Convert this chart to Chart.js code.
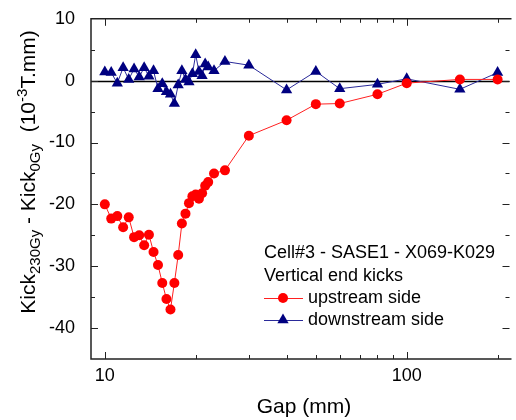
<!DOCTYPE html>
<html>
<head>
<meta charset="utf-8">
<script src="https://cdn.jsdelivr.net/npm/chart.js@4.4.0/dist/chart.umd.min.js"></script>
<style>
  html, body { margin: 0; padding: 0; background: #fff; }
  #wrap { width: 516px; height: 420px; }
</style>
</head>
<body>
<div id="wrap"><canvas id="kicks"></canvas></div>
<script>
// gap values (mm), shared by both series
const gaps = [10, 10.5, 11, 11.5, 12, 12.5, 13, 13.5, 14, 14.5, 15, 15.5, 16, 16.5, 17, 17.5,
  18, 18.5, 19, 19.5, 20, 20.5, 21, 21.5, 22, 23, 25, 30, 40, 50, 60, 80, 100, 150, 200];

const upstream = [-20.0, -22.3, -21.9, -23.7, -22.1, -25.3, -25.0, -26.6, -24.9, -27.7, -29.8, -32.7,
  -35.3, -37.0, -32.7, -28.2, -23.1, -21.5, -19.8, -18.7, -18.4, -19.1, -18.2, -17.0, -16.4, -15.0,
  -14.5, -8.9, -6.4, -3.8, -3.7, -2.2, -0.4, 0.2, 0.2];

const downstream = [1.4, 1.3, -0.4, 2.1, 0.2, 1.9, 0.6, 2.1, 0.7, 1.6, -1.3, -0.5,
  -1.8, -2.2, -3.7, -0.7, 1.6, 0.2, -0.2, 1.1, 4.2, 1.5, 0.8, 2.7, 2.2, 1.6,
  3.1, 2.5, -1.5, 1.5, -1.3, -0.6, 0.3, -1.4, 1.3];

const xTicks = [10, 20, 30, 40, 50, 60, 70, 80, 90, 100, 200];
const xLabels = ["10", "", "", "", "", "", "", "", "", "100", ""];

const legendTitle = ["Cell#3 - SASE1 - X069-K029", "Vertical end kicks"];
const seriesNames = ["upstream side", "downstream side"];

const FONT = '"Liberation Sans", Arial, sans-serif';

const framePlugin = {
  id: "frame",
  beforeDatasetsDraw(chart) {
    const ctx = chart.ctx;
    const a = chart.chartArea;
    const x = chart.scales.x;
    const y = chart.scales.y;
    ctx.save();
    // zero line
    const y0 = Math.round(y.getPixelForValue(0)) + 0.5;
    ctx.strokeStyle = "#000";
    ctx.lineWidth = 1.5;
    ctx.beginPath();
    ctx.moveTo(a.left, y0);
    ctx.lineTo(a.right, y0);
    ctx.stroke();

    // frame (right edge falls outside the picture)
    ctx.strokeStyle = "#222";
    ctx.lineWidth = 1.5;
    ctx.beginPath();
    ctx.moveTo(a.right + 2, a.top);
    ctx.lineTo(a.left, a.top);
    ctx.lineTo(a.left, a.bottom);
    ctx.lineTo(a.right + 2, a.bottom);
    ctx.stroke();

    // inward ticks
    ctx.lineWidth = 1;
    ctx.beginPath();
    x.ticks.forEach(t => {
      const px = Math.round(x.getPixelForValue(t.value)) + 0.5;
      const len = (t.value === 10 || t.value === 100) ? 7 : 4;
      ctx.moveTo(px, a.bottom);
      ctx.lineTo(px, a.bottom - len);
      ctx.moveTo(px, a.top);
      ctx.lineTo(px, a.top + len);
    });
    y.ticks.forEach(t => {
      if (t.value <= -45 || t.value >= 10) return;
      const py = Math.round(y.getPixelForValue(t.value)) + 0.5;
      const len = (t.value % 10 === 0) ? 7 : 4;
      ctx.moveTo(a.left, py);
      ctx.lineTo(a.left + len, py);
      ctx.moveTo(a.right, py);
      ctx.lineTo(a.right - len, py);
    });
    ctx.stroke();
    ctx.restore();
  },
  afterDraw(chart) {
    const ctx = chart.ctx;
    ctx.save();
    ctx.fillStyle = "#000";

    // x title
    ctx.font = "21px " + FONT;
    ctx.textAlign = "center";
    ctx.textBaseline = "middle";
    ctx.fillText("Gap (mm)", 304, 407);

    // y title with sub/superscripts
    const parts = [
      ["Kick", 0, 21], ["230Gy", 5, 15], [" - Kick", 0, 21], ["0Gy", 5, 15],
      ["  (10", 0, 21], ["-3", -8, 15], ["T.mm)", 0, 21]
    ];
    let total = 0;
    parts.forEach(p => { ctx.font = p[2] + "px " + FONT; total += ctx.measureText(p[0]).width; });
    ctx.translate(28, 172);
    ctx.rotate(-Math.PI / 2);
    ctx.textAlign = "left";
    ctx.textBaseline = "alphabetic";
    let cx = -total / 2;
    parts.forEach(p => {
      ctx.font = p[2] + "px " + FONT;
      ctx.fillText(p[0], cx, 7 + p[1]);
      cx += ctx.measureText(p[0]).width;
    });
    ctx.setTransform(1, 0, 0, 1, 0, 0);

    // legend
    ctx.font = "18px " + FONT;
    ctx.textAlign = "left";
    ctx.textBaseline = "middle";
    ctx.fillText(legendTitle[0], 264, 253);
    ctx.fillText(legendTitle[1], 264, 276);
    const rows = [298, 320];
    chart.data.datasets.forEach((ds, i) => {
      const ly = rows[i];
      ctx.strokeStyle = ds.borderColor;
      ctx.lineWidth = 1;
      ctx.beginPath();
      ctx.moveTo(264, ly + 0.5);
      ctx.lineTo(303, ly + 0.5);
      ctx.stroke();
      ctx.fillStyle = ds.pointBackgroundColor;
      Chart.helpers.drawPoint(ctx, { pointStyle: ds.pointStyle, radius: ds.pointRadius, rotation: 0, borderWidth: 0 }, 283, ly);
      ctx.fillStyle = "#000";
      ctx.fillText(seriesNames[i], 308, ly);
    });
    ctx.restore();
  }
};

new Chart("kicks", {
  type: "line",
  data: {
    labels: gaps,
    datasets: [
      {
        label: seriesNames[0],
        data: gaps.map((g, i) => ({ x: g, y: upstream[i] })),
        borderColor: "#ff2020",
        borderWidth: 1,
        pointStyle: "circle",
        pointRadius: 5,
        pointBackgroundColor: "#ff0000",
        pointBorderWidth: 0,
        tension: 0
      },
      {
        label: seriesNames[1],
        data: gaps.map((g, i) => ({ x: g, y: downstream[i] })),
        borderColor: "#2a2a9a",
        borderWidth: 1,
        pointStyle: "triangle",
        pointRadius: 6.5,
        pointBackgroundColor: "#000080",
        pointBorderWidth: 0,
        tension: 0
      }
    ]
  },
  options: {
    responsive: true,
    maintainAspectRatio: false,
    animation: false,
    layout: { padding: { top: 15, right: 0, left: 0, bottom: 0 } },
    plugins: {
      legend: { display: false },
      tooltip: { enabled: false }
    },
    scales: {
      x: {
        type: "logarithmic",
        min: 9,
        max: 219,
        grid: { display: false },
        border: { display: false },
        afterBuildTicks(scale) {
          scale.ticks = xTicks.map(v => ({ value: v }));
        },
        afterFit(scale) { scale.height = 61; },
        ticks: {
          autoSkip: false,
          maxRotation: 0,
          padding: -2,
          color: "#000",
          font: { family: FONT, size: 18 },
          callback: function (v) {
            const i = xTicks.indexOf(v);
            return i >= 0 ? xLabels[i] : "";
          }
        }
      },
      y: {
        type: "linear",
        min: -45,
        max: 10,
        grid: { display: false },
        border: { display: false },
        afterFit(scale) { scale.width = 91; },
        ticks: {
          stepSize: 5,
          padding: 8,
          color: "#000",
          font: { family: FONT, size: 18 },
          callback: v => (v % 10 === 0 ? String(v) : "")
        }
      }
    }
  },
  plugins: [framePlugin]
});
</script>
</body>
</html>
